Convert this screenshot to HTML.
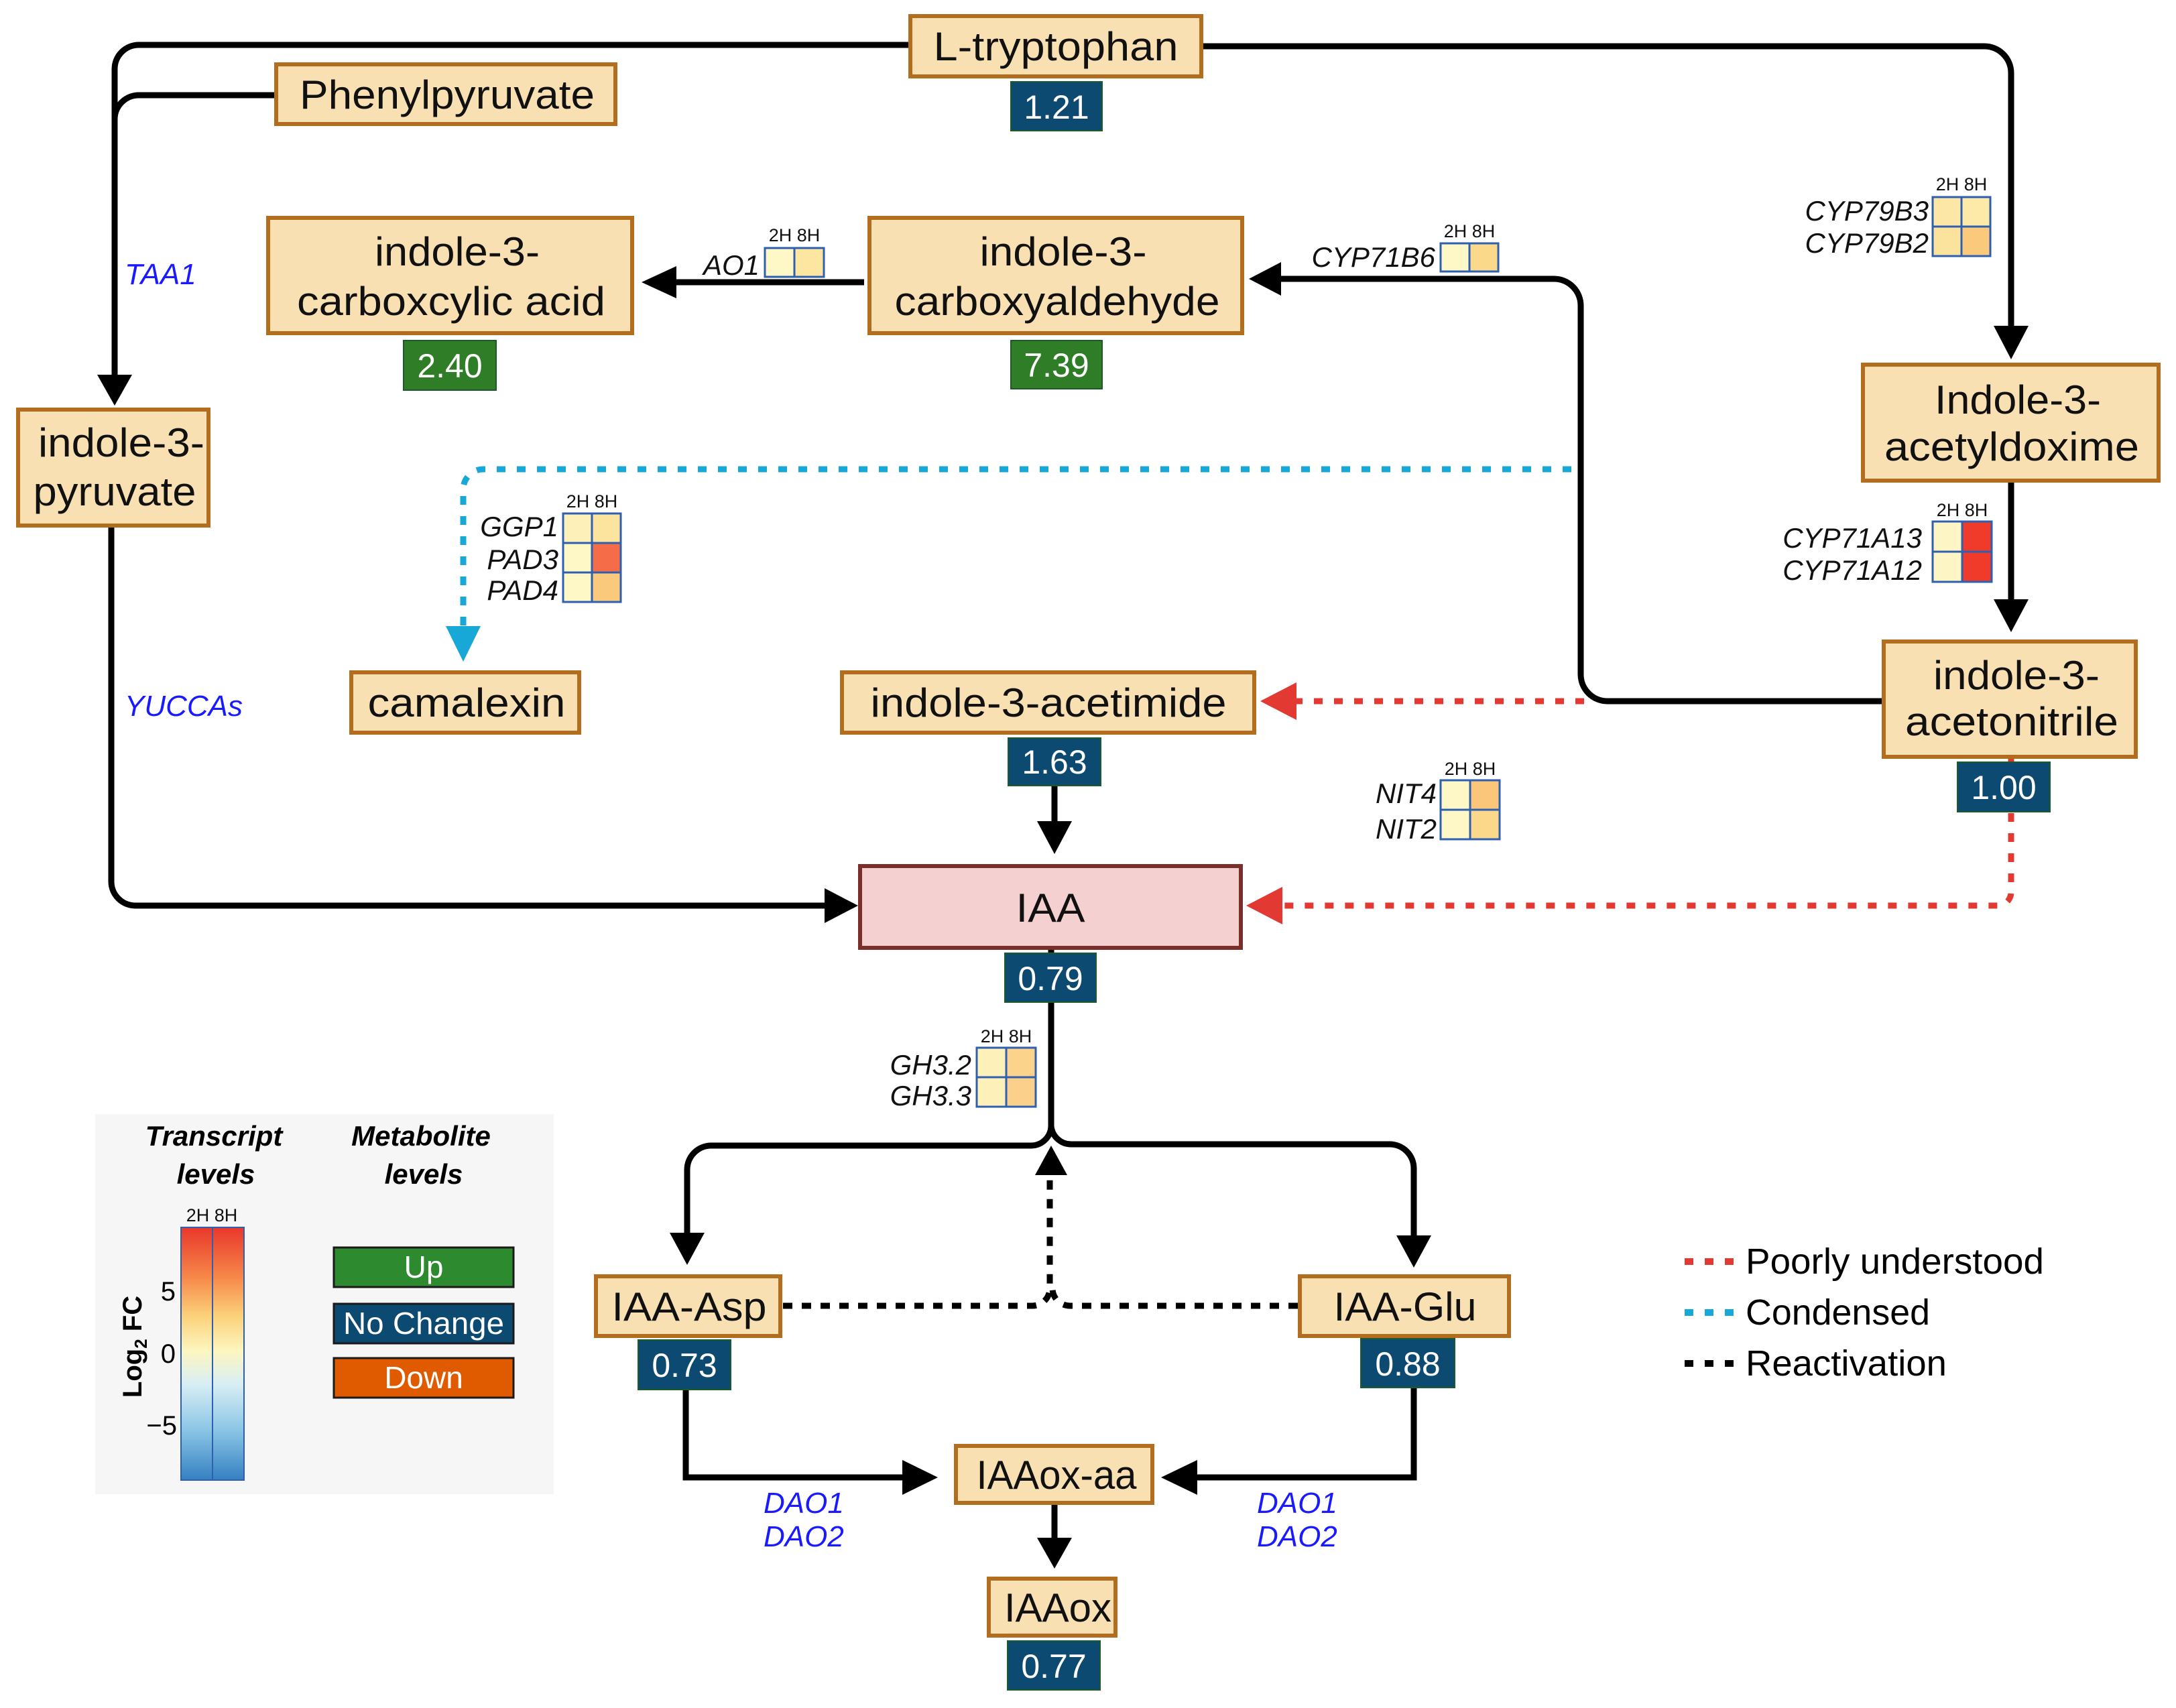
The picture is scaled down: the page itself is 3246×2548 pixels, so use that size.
<!DOCTYPE html>
<html><head><meta charset="utf-8"><style>
html,body{margin:0;padding:0;background:#fff}
svg{display:block}
text{font-family:"Liberation Sans",sans-serif}
.n{font-size:60px;fill:#111;text-anchor:middle}
.b{font-size:50px;fill:#fff;text-anchor:middle}
.g{font-size:42px;font-style:italic;fill:#111;text-anchor:end}
.e{font-size:44px;font-style:italic;fill:#1a1aff}
.h{font-size:27px;fill:#111;text-anchor:middle}
.box{fill:#f8e0b2;stroke:#b36d1e;stroke-width:6}
.bd{fill:#0c4a72;stroke:#1d5a2a;stroke-width:2}
.gr{fill:#2f7d26;stroke:#1d5a2a;stroke-width:2}
.k{fill:none;stroke:#000;stroke-width:9}
.cell{stroke:#2f5fb0;stroke-width:3}
</style></head><body>
<svg width="3246" height="2548" viewBox="0 0 3246 2548" xmlns="http://www.w3.org/2000/svg">
<rect width="3246" height="2548" fill="#fff"/>

<!-- black connectors -->
<path class="k" d="M1358,67 H207 A36,36 0 0 0 171,103 V560"/>
<path class="k" d="M412,142 H207 A36,36 0 0 0 171,178"/>
<polygon points="145,559 197,559 171,605"/>
<path class="k" d="M166,784 V1315 A36,36 0 0 0 202,1351 H1230"/>
<polygon points="1230,1325 1230,1377 1280,1351"/>
<path class="k" d="M1792,69 H2960 A40,40 0 0 1 3000,109 V490"/>
<polygon points="2974,486 3026,486 3000,536"/>
<path class="k" d="M3000,717 V896"/>
<polygon points="2974,894 3026,894 3000,943"/>
<path class="k" d="M2810,1046 H2398 A40,40 0 0 1 2358,1006 V456 A40,40 0 0 0 2318,416 H1908"/>
<polygon points="1911,391 1911,441 1863,416"/>
<path class="k" d="M1289,421 H1005"/>
<polygon points="1009,397 1009,445 957,421"/>
<path class="k" d="M1573,1172 V1228"/>
<polygon points="1547,1225 1599,1225 1573,1274"/>
<!-- fork -->
<path class="k" d="M1568,1414 V1680 A30,30 0 0 1 1538,1709 H1061 A36,36 0 0 0 1025,1745 V1842"/>
<polygon points="999,1839 1051,1839 1025,1887"/>
<path class="k" d="M1568,1680 A30,30 0 0 0 1598,1707 H2073 A36,36 0 0 1 2109,1743 V1846"/>
<polygon points="2083,1843 2135,1843 2109,1891"/>
<polygon points="1544,1753 1592,1753 1568,1709"/>
<path fill="none" stroke="#000" stroke-width="9" stroke-dasharray="14,14" d="M1168,1948 H1540 A26,26 0 0 0 1566,1922 V1755"/>
<path fill="none" stroke="#000" stroke-width="9" stroke-dasharray="14,14" d="M1936,1948 H1596 A26,26 0 0 1 1570,1922"/>
<path class="k" d="M1023,2073 V2204 H1350"/>
<polygon points="1346,2178 1346,2230 1399,2204"/>
<path class="k" d="M2109,2070 V2204 H1782"/>
<polygon points="1786,2178 1786,2230 1732,2204"/>
<path class="k" d="M1573,2242 V2298"/>
<polygon points="1547,2294 1599,2294 1573,2340"/>

<!-- dotted coloured -->
<path fill="none" stroke="#18a8d8" stroke-width="9" stroke-dasharray="13,17" d="M2344,700 H721 A30,30 0 0 0 691,730 V934"/>
<polygon fill="#18a8d8" points="665,934 717,934 691,987"/>
<path fill="none" stroke="#e23a32" stroke-width="9" stroke-dasharray="13,17" d="M2363,1046 H1934"/>
<polygon fill="#e23a32" points="1934,1018 1934,1074 1880,1046"/>
<path fill="none" stroke="#e23a32" stroke-width="9" stroke-dasharray="13,17" d="M3000,1129 V1137 M3000,1213 V1331 A20,20 0 0 1 2980,1351 H1913"/>
<polygon fill="#e23a32" points="1913,1323 1913,1379 1859,1351"/>

<!-- nodes -->
<rect class="box" x="1358" y="24" width="434" height="90"/>
<text class="n" x="1575" y="90" textLength="365" lengthAdjust="spacingAndGlyphs">L-tryptophan</text>
<rect class="bd" x="1508" y="122" width="136" height="73"/><text class="b" x="1576" y="177">1.21</text>

<rect class="box" x="412" y="96" width="506" height="89"/>
<text class="n" x="667" y="162" textLength="440" lengthAdjust="spacingAndGlyphs">Phenylpyruvate</text>

<rect class="box" x="400" y="325" width="543" height="172"/>
<text class="n" x="682" y="396" textLength="246" lengthAdjust="spacingAndGlyphs">indole-3-</text>
<text class="n" x="673" y="470" textLength="460" lengthAdjust="spacingAndGlyphs">carboxcylic acid</text>
<rect class="gr" x="602" y="508" width="138" height="74"/><text class="b" x="671" y="563">2.40</text>

<rect class="box" x="1297" y="325" width="556" height="172"/>
<text class="n" x="1586" y="396" textLength="249" lengthAdjust="spacingAndGlyphs">indole-3-</text>
<text class="n" x="1577" y="470" textLength="485" lengthAdjust="spacingAndGlyphs">carboxyaldehyde</text>
<rect class="gr" x="1508" y="508" width="136" height="72"/><text class="b" x="1576" y="562">7.39</text>

<rect class="box" x="27" y="611" width="284" height="173"/>
<text class="n" x="181" y="681" textLength="248" lengthAdjust="spacingAndGlyphs">indole-3-</text>
<text class="n" x="171" y="754" textLength="243" lengthAdjust="spacingAndGlyphs">pyruvate</text>

<rect class="box" x="2779" y="544" width="441" height="173"/>
<text class="n" x="3010" y="617" textLength="248" lengthAdjust="spacingAndGlyphs">Indole-3-</text>
<text class="n" x="3001" y="687" textLength="380" lengthAdjust="spacingAndGlyphs">acetyldoxime</text>

<rect class="box" x="2810" y="957" width="376" height="172"/>
<text class="n" x="3008" y="1028" textLength="248" lengthAdjust="spacingAndGlyphs">indole-3-</text>
<text class="n" x="3001" y="1097" textLength="318" lengthAdjust="spacingAndGlyphs">acetonitrile</text>
<rect class="bd" x="2920" y="1137" width="138" height="74"/><text class="b" x="2989" y="1192">1.00</text>

<rect class="box" x="524" y="1003" width="340" height="90"/>
<text class="n" x="696" y="1069" textLength="295" lengthAdjust="spacingAndGlyphs">camalexin</text>

<rect class="box" x="1256" y="1003" width="615" height="90"/>
<text class="n" x="1564" y="1069" textLength="531" lengthAdjust="spacingAndGlyphs">indole-3-acetimide</text>
<rect class="bd" x="1504" y="1101" width="138" height="71"/><text class="b" x="1573" y="1154">1.63</text>

<rect x="1283" y="1292" width="568" height="122" fill="#f4d0d1" stroke="#7a2f2a" stroke-width="6"/>
<text class="n" x="1567" y="1375" textLength="103" lengthAdjust="spacingAndGlyphs">IAA</text>
<rect class="bd" x="1499" y="1422" width="136" height="73"/><text class="b" x="1567" y="1477">0.79</text>

<rect class="box" x="889" y="1904" width="275" height="89"/>
<text class="n" x="1028" y="1970" textLength="231" lengthAdjust="spacingAndGlyphs">IAA-Asp</text>
<rect class="bd" x="952" y="1999" width="138" height="74"/><text class="b" x="1021" y="2054">0.73</text>

<rect class="box" x="1939" y="1904" width="312" height="89"/>
<text class="n" x="2096" y="1970" textLength="213" lengthAdjust="spacingAndGlyphs">IAA-Glu</text>
<rect class="bd" x="2030" y="1997" width="140" height="73"/><text class="b" x="2100" y="2052">0.88</text>

<rect class="box" x="1426" y="2157" width="293" height="85"/>
<text class="n" x="1576" y="2221" textLength="239" lengthAdjust="spacingAndGlyphs">IAAox-aa</text>
<rect class="box" x="1475" y="2355" width="189" height="85"/>
<text class="n" x="1578" y="2419" textLength="160" lengthAdjust="spacingAndGlyphs">IAAox</text>
<rect class="bd" x="1503" y="2448" width="138" height="73"/><text class="b" x="1572" y="2503">0.77</text>

<!-- enzyme labels -->
<text class="e" x="186" y="424">TAA1</text>
<text class="e" x="186" y="1068">YUCCAs</text>
<text class="e" x="1139" y="2257">DAO1</text><text class="e" x="1139" y="2307">DAO2</text>
<text class="e" x="1875" y="2257">DAO1</text><text class="e" x="1875" y="2307">DAO2</text>

<!-- heatmaps -->
<g>
<text class="g" x="1133" y="410">AO1</text>
<text class="h" x="1185" y="360">2H 8H</text>
<rect class="cell" x="1141" y="370" width="44" height="43" fill="#fef7c6"/><rect class="cell" x="1185" y="370" width="44" height="43" fill="#fce6a0"/>

<text class="g" x="2141" y="398">CYP71B6</text>
<text class="h" x="2192" y="354">2H 8H</text>
<rect class="cell" x="2149" y="363" width="43" height="42" fill="#fef7c6"/><rect class="cell" x="2192" y="363" width="43" height="42" fill="#fbd98a"/>

<text class="g" x="833" y="800">GGP1</text><text class="g" x="833" y="849">PAD3</text><text class="g" x="833" y="895">PAD4</text>
<text class="h" x="883" y="757">2H 8H</text>
<rect class="cell" x="840" y="766" width="43" height="44" fill="#fdf0b8"/><rect class="cell" x="883" y="766" width="43" height="44" fill="#fce49e"/>
<rect class="cell" x="840" y="810" width="43" height="44" fill="#fef7c6"/><rect class="cell" x="883" y="810" width="43" height="44" fill="#f46c48"/>
<rect class="cell" x="840" y="854" width="43" height="44" fill="#fef7c6"/><rect class="cell" x="883" y="854" width="43" height="44" fill="#fbc97c"/>

<text class="g" x="2877" y="329">CYP79B3</text><text class="g" x="2877" y="377">CYP79B2</text>
<text class="h" x="2926" y="284">2H 8H</text>
<rect class="cell" x="2883" y="294" width="43" height="44" fill="#fce7a6"/><rect class="cell" x="2926" y="294" width="43" height="44" fill="#fde9a8"/>
<rect class="cell" x="2883" y="338" width="43" height="44" fill="#fce39d"/><rect class="cell" x="2926" y="338" width="43" height="44" fill="#fbc97c"/>

<text class="g" x="2867" y="817">CYP71A13</text><text class="g" x="2867" y="865">CYP71A12</text>
<text class="h" x="2927" y="770">2H 8H</text>
<rect class="cell" x="2883" y="778" width="44" height="45" fill="#fdf6c4"/><rect class="cell" x="2927" y="778" width="44" height="45" fill="#f03a2a"/>
<rect class="cell" x="2883" y="823" width="44" height="45" fill="#fdf6c4"/><rect class="cell" x="2927" y="823" width="44" height="45" fill="#f03a2a"/>

<text class="g" x="2143" y="1198">NIT4</text><text class="g" x="2143" y="1251">NIT2</text>
<text class="h" x="2193" y="1156">2H 8H</text>
<rect class="cell" x="2149" y="1164" width="44" height="44" fill="#fef7c6"/><rect class="cell" x="2193" y="1164" width="44" height="44" fill="#fbc57a"/>
<rect class="cell" x="2149" y="1208" width="44" height="44" fill="#fef7c6"/><rect class="cell" x="2193" y="1208" width="44" height="44" fill="#fcd98a"/>

<text class="g" x="1449" y="1603">GH3.2</text><text class="g" x="1449" y="1649">GH3.3</text>
<text class="h" x="1501" y="1555">2H 8H</text>
<rect class="cell" x="1457" y="1563" width="44" height="44" fill="#fdf0b8"/><rect class="cell" x="1501" y="1563" width="44" height="44" fill="#fbd38a"/>
<rect class="cell" x="1457" y="1607" width="44" height="44" fill="#fdf0b8"/><rect class="cell" x="1501" y="1607" width="44" height="44" fill="#fbd08a"/>
</g>

<!-- legend panel -->
<defs>
<linearGradient id="cb" x1="0" y1="0" x2="0" y2="1">
<stop offset="0" stop-color="#e8382b"/><stop offset="0.2" stop-color="#f7884a"/>
<stop offset="0.35" stop-color="#fcd17a"/><stop offset="0.49" stop-color="#fdf6c0"/>
<stop offset="0.62" stop-color="#d8eef4"/><stop offset="0.8" stop-color="#8cc6e6"/>
<stop offset="1" stop-color="#3480c2"/></linearGradient>
</defs>
<rect x="142" y="1662" width="684" height="567" fill="#f6f6f6"/>
<text x="319" y="1709" font-size="42" font-weight="bold" font-style="italic" text-anchor="middle">Transcript</text>
<text x="322" y="1766" font-size="42" font-weight="bold" font-style="italic" text-anchor="middle">levels</text>
<text x="628" y="1709" font-size="42" font-weight="bold" font-style="italic" text-anchor="middle">Metabolite</text>
<text x="632" y="1766" font-size="42" font-weight="bold" font-style="italic" text-anchor="middle">levels</text>
<text class="h" x="316" y="1822">2H 8H</text>
<rect x="270" y="1831" width="47" height="377" fill="url(#cb)" stroke="#2f5fb0" stroke-width="2"/>
<rect x="317" y="1831" width="47" height="377" fill="url(#cb)" stroke="#2f5fb0" stroke-width="2"/>
<text x="262" y="1940" font-size="40" text-anchor="end">5</text>
<text x="262" y="2033" font-size="40" text-anchor="end">0</text>
<text x="264" y="2140" font-size="40" text-anchor="end">−5</text>
<text transform="translate(211,2009) rotate(-90)" font-size="40" font-weight="bold" text-anchor="middle">Log<tspan font-size="26" dy="8">2</tspan><tspan dy="-8"> FC</tspan></text>
<rect x="498" y="1861" width="268" height="59" fill="#2e8a2e" stroke="#1a1a1a" stroke-width="3"/>
<text x="632" y="1906" font-size="46" fill="#fff" text-anchor="middle">Up</text>
<rect x="498" y="1945" width="268" height="59" fill="#0c4a72" stroke="#1a1a1a" stroke-width="3"/>
<text x="632" y="1990" font-size="46" fill="#fff" text-anchor="middle" textLength="240" lengthAdjust="spacingAndGlyphs">No Change</text>
<rect x="498" y="2026" width="268" height="59" fill="#e05a00" stroke="#1a1a1a" stroke-width="3"/>
<text x="632" y="2071" font-size="46" fill="#fff" text-anchor="middle">Down</text>

<!-- line-type legend -->
<path stroke="#e23a32" stroke-width="10" stroke-dasharray="13,17" d="M2513,1882 H2590"/>
<text x="2604" y="1900" font-size="54" textLength="445" lengthAdjust="spacingAndGlyphs">Poorly understood</text>
<path stroke="#18a8d8" stroke-width="10" stroke-dasharray="13,17" d="M2513,1958 H2590"/>
<text x="2604" y="1976" font-size="54" textLength="275" lengthAdjust="spacingAndGlyphs">Condensed</text>
<path stroke="#000" stroke-width="10" stroke-dasharray="13,17" d="M2513,2034 H2590"/>
<text x="2604" y="2052" font-size="54" textLength="300" lengthAdjust="spacingAndGlyphs">Reactivation</text>
</svg>
</body></html>
